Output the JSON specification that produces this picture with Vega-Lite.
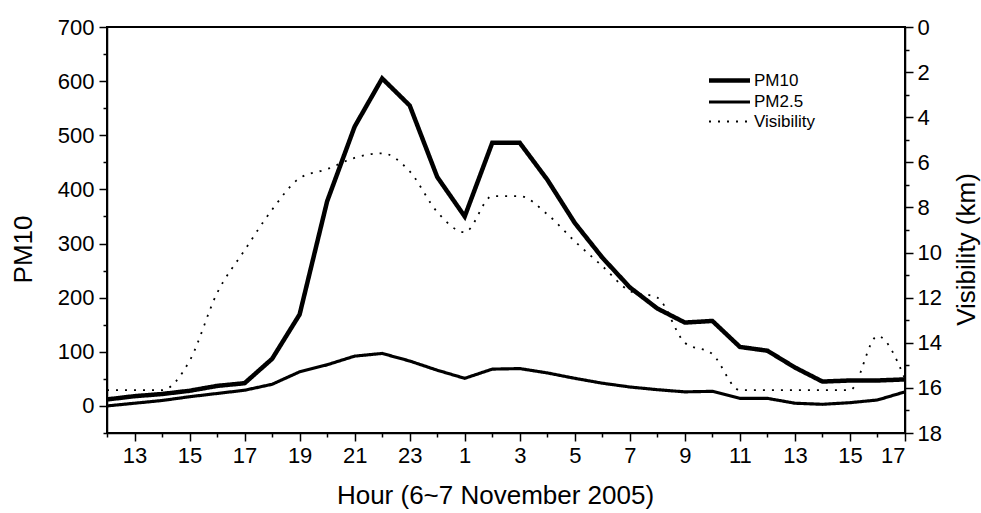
{
  "$schema": "https://vega.github.io/schema/vega-lite/v6.json",
  "autosize": {"type": "none"},
  "width": 798,
  "height": 406,
  "padding": {"left": 107, "top": 27, "right": 76, "bottom": 80},
  "background": "white",
  "config": {
    "view": {"stroke": "black", "strokeWidth": 2},
    "font": "Liberation Sans",
    "axis": {"grid": false, "domainColor": "black", "tickColor": "black", "labelColor": "black", "titleColor": "black", "domainWidth": 1.5, "tickWidth": 1.5, "labelFontSize": 22, "titleFontSize": 26, "titleFontWeight": "normal", "labelFont": "Liberation Sans", "titleFont": "Liberation Sans", "labelOverlap": false}
  },
  "data": {"values": [
    {"hour": 12, "series": "PM10", "value": 12}, {"hour": 13, "series": "PM10", "value": 18}, {"hour": 14, "series": "PM10", "value": 22}, {"hour": 15, "series": "PM10", "value": 28}, {"hour": 16, "series": "PM10", "value": 37}, {"hour": 17, "series": "PM10", "value": 42}, {"hour": 18, "series": "PM10", "value": 87}, {"hour": 19, "series": "PM10", "value": 169}, {"hour": 20, "series": "PM10", "value": 378}, {"hour": 21, "series": "PM10", "value": 516}, {"hour": 22, "series": "PM10", "value": 605}, {"hour": 23, "series": "PM10", "value": 555}, {"hour": 24, "series": "PM10", "value": 423}, {"hour": 25, "series": "PM10", "value": 350}, {"hour": 26, "series": "PM10", "value": 486}, {"hour": 27, "series": "PM10", "value": 486}, {"hour": 28, "series": "PM10", "value": 418}, {"hour": 29, "series": "PM10", "value": 338}, {"hour": 30, "series": "PM10", "value": 274}, {"hour": 31, "series": "PM10", "value": 219}, {"hour": 32, "series": "PM10", "value": 180}, {"hour": 33, "series": "PM10", "value": 154}, {"hour": 34, "series": "PM10", "value": 157}, {"hour": 35, "series": "PM10", "value": 109}, {"hour": 36, "series": "PM10", "value": 102}, {"hour": 37, "series": "PM10", "value": 71}, {"hour": 38, "series": "PM10", "value": 45}, {"hour": 39, "series": "PM10", "value": 47}, {"hour": 40, "series": "PM10", "value": 47}, {"hour": 41, "series": "PM10", "value": 49},
    {"hour": 12, "series": "PM2.5", "value": 0}, {"hour": 13, "series": "PM2.5", "value": 5}, {"hour": 14, "series": "PM2.5", "value": 10}, {"hour": 15, "series": "PM2.5", "value": 17}, {"hour": 16, "series": "PM2.5", "value": 23}, {"hour": 17, "series": "PM2.5", "value": 29}, {"hour": 18, "series": "PM2.5", "value": 40}, {"hour": 19, "series": "PM2.5", "value": 63}, {"hour": 20, "series": "PM2.5", "value": 76}, {"hour": 21, "series": "PM2.5", "value": 92}, {"hour": 22, "series": "PM2.5", "value": 97}, {"hour": 23, "series": "PM2.5", "value": 83}, {"hour": 24, "series": "PM2.5", "value": 66}, {"hour": 25, "series": "PM2.5", "value": 51}, {"hour": 26, "series": "PM2.5", "value": 68}, {"hour": 27, "series": "PM2.5", "value": 69}, {"hour": 28, "series": "PM2.5", "value": 61}, {"hour": 29, "series": "PM2.5", "value": 51}, {"hour": 30, "series": "PM2.5", "value": 42}, {"hour": 31, "series": "PM2.5", "value": 35}, {"hour": 32, "series": "PM2.5", "value": 30}, {"hour": 33, "series": "PM2.5", "value": 26}, {"hour": 34, "series": "PM2.5", "value": 27}, {"hour": 35, "series": "PM2.5", "value": 14}, {"hour": 36, "series": "PM2.5", "value": 14}, {"hour": 37, "series": "PM2.5", "value": 5}, {"hour": 38, "series": "PM2.5", "value": 3}, {"hour": 39, "series": "PM2.5", "value": 6}, {"hour": 40, "series": "PM2.5", "value": 11}, {"hour": 41, "series": "PM2.5", "value": 26},
    {"hour": 12, "series": "Visibility", "value": 16.1}, {"hour": 13, "series": "Visibility", "value": 16.1}, {"hour": 14, "series": "Visibility", "value": 16.1}, {"hour": 15, "series": "Visibility", "value": 14.8}, {"hour": 16, "series": "Visibility", "value": 11.8}, {"hour": 17, "series": "Visibility", "value": 9.9}, {"hour": 18, "series": "Visibility", "value": 8.1}, {"hour": 19, "series": "Visibility", "value": 6.7}, {"hour": 20, "series": "Visibility", "value": 6.3}, {"hour": 21, "series": "Visibility", "value": 5.8}, {"hour": 22, "series": "Visibility", "value": 5.6}, {"hour": 23, "series": "Visibility", "value": 6.4}, {"hour": 24, "series": "Visibility", "value": 8.2}, {"hour": 25, "series": "Visibility", "value": 9.1}, {"hour": 26, "series": "Visibility", "value": 7.5}, {"hour": 27, "series": "Visibility", "value": 7.5}, {"hour": 28, "series": "Visibility", "value": 8.3}, {"hour": 29, "series": "Visibility", "value": 9.5}, {"hour": 30, "series": "Visibility", "value": 10.6}, {"hour": 31, "series": "Visibility", "value": 11.7}, {"hour": 32, "series": "Visibility", "value": 12.0}, {"hour": 33, "series": "Visibility", "value": 14.0}, {"hour": 34, "series": "Visibility", "value": 14.5}, {"hour": 35, "series": "Visibility", "value": 16.1}, {"hour": 36, "series": "Visibility", "value": 16.1}, {"hour": 37, "series": "Visibility", "value": 16.1}, {"hour": 38, "series": "Visibility", "value": 16.1}, {"hour": 39, "series": "Visibility", "value": 16.1}, {"hour": 40, "series": "Visibility", "value": 13.7}, {"hour": 41, "series": "Visibility", "value": 15.6}
  ]},
  "encoding": {
    "x": {
      "field": "hour", "type": "quantitative",
      "scale": {"domain": [12, 41], "nice": false, "zero": false},
      "axis": {
        "title": "Hour (6~7 November 2005)",
        "values": [12,13,14,15,16,17,18,19,20,21,22,23,24,25,26,27,28,29,30,31,32,33,34,35,36,37,38,39,40,41],
        "labelExpr": "datum.value % 2 == 1 ? (datum.value > 24 ? datum.value - 24 : datum.value) + '' : ''",
        "tickSize": {"condition": {"test": "datum.value % 2 == 1", "value": 8}, "value": 4},
        "labelPadding": 4,
        "titleX": 388, "titleY": 62, "titleBaseline": "middle"
      }
    },
    "strokeDash": {
      "field": "series", "type": "nominal",
      "scale": {"domain": ["PM10", "PM2.5", "Visibility"], "range": [[1, 0], [1, 0], [2, 7]]},
      "legend": {
        "title": null, "orient": "none", "legendX": 612, "legendY": 43,
        "symbolType": "M-2.5,0H2.5", "symbolSize": 269, "symbolStrokeColor": "black",
        "labelFontSize": 17, "labelFont": "Liberation Sans", "labelColor": "black", "labelOffset": 14,
        "rowPadding": 2, "padding": 0
      }
    },
    "strokeWidth": {
      "field": "series", "type": "ordinal",
      "scale": {"domain": ["PM10", "PM2.5", "Visibility"], "range": [4.5, 1.8, 1.6]},
      "legend": {
        "title": null, "orient": "none", "legendX": 612, "legendY": 43,
        "symbolType": "M-2.5,0H2.5", "symbolSize": 269, "symbolStrokeColor": "black",
        "labelFontSize": 17, "labelFont": "Liberation Sans", "labelColor": "black", "labelOffset": 14,
        "rowPadding": 2, "padding": 0
      }
    }
  },
  "layer": [
    {
      "transform": [{"filter": "datum.series != 'Visibility'"}],
      "mark": {"type": "line", "color": "black", "strokeJoin": "miter"},
      "encoding": {
        "y": {
          "field": "value", "type": "quantitative",
          "scale": {"domain": [-50, 700], "nice": false, "zero": false},
          "axis": {
            "title": "PM10",
            "values": [-50,0,50,100,150,200,250,300,350,400,450,500,550,600,650,700],
            "labelExpr": "datum.value % 100 == 0 ? datum.value + '' : ''",
            "tickSize": {"condition": {"test": "datum.value % 100 == 0", "value": 8}, "value": 4},
            "labelPadding": 5,
            "titleX": -84, "titleY": 222, "titleAngle": 270, "titleBaseline": "middle", "titleAlign": "center"
          }
        },
        "detail": {"field": "series"}
      }
    },
    {
      "transform": [{"filter": "datum.series == 'Visibility'"}],
      "mark": {"type": "line", "color": "black", "interpolate": "monotone"},
      "encoding": {
        "y": {
          "field": "value", "type": "quantitative",
          "scale": {"domain": [0, 18], "nice": false, "zero": false, "reverse": true},
          "axis": {
            "orient": "right",
            "title": "Visibility (km)",
            "values": [0,1,2,3,4,5,6,7,8,9,10,11,12,13,14,15,16,17,18],
            "labelExpr": "datum.value % 2 == 0 ? datum.value + '' : ''",
            "tickSize": {"condition": {"test": "datum.value % 2 == 0", "value": 8}, "value": 4},
            "labelPadding": 4,
            "titleX": 61, "titleY": 222, "titleAngle": 270, "titleBaseline": "middle", "titleAlign": "center"
          }
        }
      }
    }
  ],
  "resolve": {"scale": {"y": "independent"}}
}
